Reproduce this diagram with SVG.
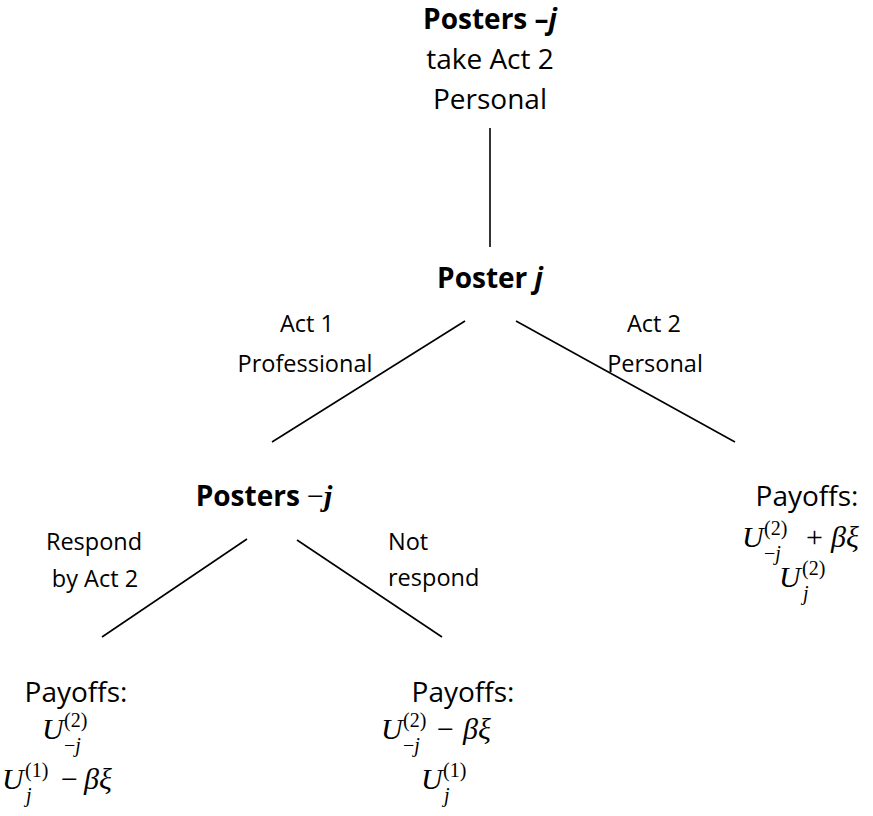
<svg xmlns="http://www.w3.org/2000/svg" width="873" height="816" viewBox="0 0 873 816">
<style>
.t{font-family:"Open Sans","Noto Sans",sans-serif;font-size:28px;fill:#000}
.l{font-family:"Open Sans","Noto Sans",sans-serif;font-size:23.5px;fill:#000}
.b{font-weight:bold}
.ji{font-style:italic}
.bi{font-family:"Liberation Serif",serif;font-style:italic;font-weight:bold}
.m{font-family:"Liberation Serif","DejaVu Serif",serif;font-size:30px;font-style:italic;fill:#000}
.s{font-size:20px;font-style:normal}
.si{font-size:20px}
.op{font-style:normal}
.e{stroke:#000;stroke-width:1.6;fill:none}
</style>
<rect width="873" height="816" fill="#fff"/>
<g id="connectors">
<line class="e" x1="490" y1="128" x2="490" y2="247"/>
<line class="e" x1="465" y1="321" x2="272" y2="442"/>
<line class="e" x1="516" y1="321" x2="735" y2="442"/>
<line class="e" x1="247" y1="539" x2="102" y2="637"/>
<line class="e" x1="297" y1="540" x2="442" y2="637"/>
</g>
<g id="root">
<text class="t b" x="490" y="29" text-anchor="middle">Posters –<tspan class="ji">j</tspan></text>
<text class="t" x="490" y="69" text-anchor="middle">take Act 2</text>
<text class="t" x="490" y="109" text-anchor="middle">Personal</text>
</g>
<g id="poster-j">
<text class="t b" x="490" y="288" text-anchor="middle">Poster <tspan class="ji">j</tspan></text>
</g>
<g id="label-act1">
<text class="l" x="307" y="332" text-anchor="middle">Act 1</text>
<text class="l" x="305" y="372" text-anchor="middle">Professional</text>
</g>
<g id="label-act2">
<text class="l" x="654" y="332" text-anchor="middle">Act 2</text>
<text class="l" x="655" y="372" text-anchor="middle">Personal</text>
</g>
<g id="posters-minus-j">
<text class="t b" x="264" y="506" text-anchor="middle">Posters <tspan font-family="Liberation Serif" font-weight="normal" font-size="30">−</tspan><tspan class="bi" font-size="30">j</tspan></text>
</g>
<g id="label-respond">
<text class="l" x="94" y="550" text-anchor="middle">Respond</text>
<text class="l" x="95" y="587" text-anchor="middle">by Act 2</text>
</g>
<g id="label-not-respond">
<text class="l" x="388" y="550">Not</text>
<text class="l" x="388" y="586">respond</text>
</g>
<g id="payoff-personal">
<text class="t" x="807" y="506" text-anchor="middle">Payoffs:</text>
<text class="m" y="547"><tspan x="742">U</tspan><tspan class="s" x="764" y="535">(2)</tspan><tspan class="s" x="764" y="560">−</tspan><tspan class="si">j</tspan><tspan class="op" x="806" y="547">+</tspan><tspan x="831">βξ</tspan></text>
<text class="m" y="587"><tspan x="779">U</tspan><tspan class="s" x="802" y="575">(2)</tspan><tspan class="si" x="803" y="600">j</tspan></text>
</g>
<g id="payoff-respond">
<text class="t" x="76" y="702" text-anchor="middle">Payoffs:</text>
<text class="m" y="739"><tspan x="42">U</tspan><tspan class="s" x="64" y="727">(2)</tspan><tspan class="s" x="64" y="752">−</tspan><tspan class="si">j</tspan></text>
<text class="m" y="789"><tspan x="2">U</tspan><tspan class="s" x="25" y="777">(1)</tspan><tspan class="si" x="26" y="802">j</tspan><tspan class="op" x="61" y="789">−</tspan><tspan x="84">βξ</tspan></text>
</g>
<g id="payoff-not-respond">
<text class="t" x="463" y="702" text-anchor="middle">Payoffs:</text>
<text class="m" y="739"><tspan x="381">U</tspan><tspan class="s" x="403" y="727">(2)</tspan><tspan class="s" x="403" y="752">−</tspan><tspan class="si">j</tspan><tspan class="op" x="437" y="739">−</tspan><tspan x="463">βξ</tspan></text>
<text class="m" y="789"><tspan x="421">U</tspan><tspan class="s" x="443" y="777">(1)</tspan><tspan class="si" x="444" y="802">j</tspan></text>
</g>
</svg>
